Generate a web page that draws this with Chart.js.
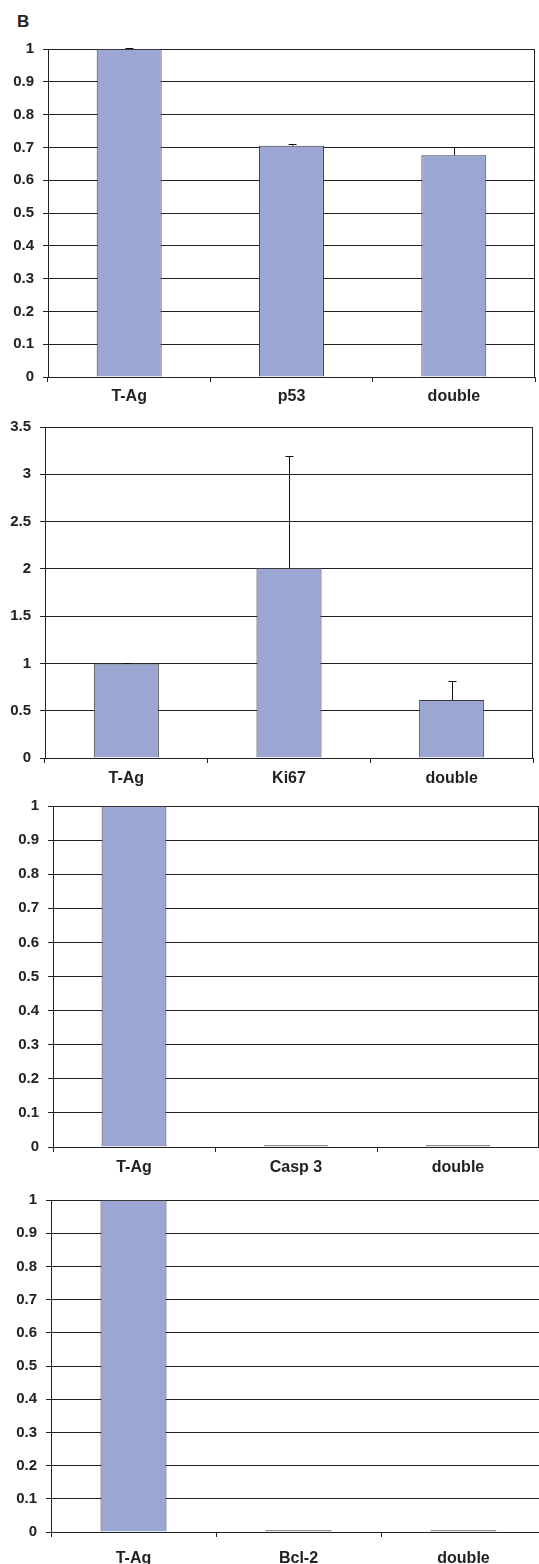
<!DOCTYPE html>
<html>
<head>
<meta charset="utf-8">
<script src="https://cdn.jsdelivr.net/npm/chart.js@4.4.1/dist/chart.umd.min.js"></script>
<style>
  html, body { margin: 0; padding: 0; background: #fff; overflow: hidden; }
  body { width: 539px; height: 1564px; position: relative; }
  canvas { position: absolute; left: 0; }
  #panelLetter {
    position: absolute; left: 17px; top: 12px;
    font: bold 17px "Liberation Sans", Arial, sans-serif; color: #222;
  }
</style>
</head>
<body>
<div id="panelLetter">B</div>
<canvas id="p53Chart"></canvas>
<canvas id="ki67Chart"></canvas>
<canvas id="caspChart"></canvas>
<canvas id="bclChart"></canvas>

<script>
// ===================== DATA =====================
const p53Labels = ["T-Ag", "p53", "double"];
const p53Values = [1, 0.705, 0.676];
const p53Errors = [0.002, 0.004, 0.026];

const ki67Labels = ["T-Ag", "Ki67", "double"];
const ki67Values = [1, 2.01, 0.613];
const ki67Errors = [0.003, 1.185, 0.197];

const caspLabels = ["T-Ag", "Casp 3", "double"];
const caspValues = [1, 0.005, 0.005];
const caspErrors = [0, 0, 0];

const bclLabels = ["T-Ag", "Bcl-2", "double"];
const bclValues = [1, 0.005, 0.005];
const bclErrors = [0, 0, 0];

const unitTicks = [0, 0.1, 0.2, 0.3, 0.4, 0.5, 0.6, 0.7, 0.8, 0.9, 1];
const unitTickLabels = ["0", "0.1", "0.2", "0.3", "0.4", "0.5", "0.6", "0.7", "0.8", "0.9", "1"];
const ki67Ticks = [0, 0.5, 1, 1.5, 2, 2.5, 3, 3.5];
const ki67TickLabels = ["0", "0.5", "1", "1.5", "2", "2.5", "3", "3.5"];

// ===================== PLUGINS =====================
// plus-only error bars, like the excel original
const errorBars = {
  id: "errorBars",
  afterDatasetsDraw(chart, args, opts) {
    const errs = opts.errors;
    if (!errs) return;
    const meta = chart.getDatasetMeta(0);
    const yScale = chart.scales.y;
    const values = chart.data.datasets[0].data;
    const ctx = chart.ctx;
    ctx.save();
    ctx.strokeStyle = "#111";
    ctx.lineWidth = 1;
    meta.data.forEach((bar, i) => {
      if (!errs[i]) return;
      const yTop = Math.round(yScale.getPixelForValue(values[i] + errs[i])) + 0.5;
      const x = Math.round(bar.x) + 0.5;
      ctx.beginPath();
      ctx.moveTo(x, bar.y);
      ctx.lineTo(x, yTop);
      ctx.moveTo(x - 4, yTop);
      ctx.lineTo(x + 4, yTop);
      ctx.stroke();
    });
    ctx.restore();
  }
};

// right hand border of the plot area
const plotFrame = {
  id: "plotFrame",
  afterDraw(chart) {
    const a = chart.chartArea;
    const ctx = chart.ctx;
    ctx.save();
    ctx.strokeStyle = "#222";
    ctx.lineWidth = 1;
    ctx.beginPath();
    const x = Math.round(a.right) - 0.5;
    ctx.moveTo(x, a.top);
    ctx.lineTo(x, a.bottom);
    ctx.stroke();
    ctx.restore();
  }
};

// ===================== CHART SETUP =====================
function makeChart(id, labels, values, errors, ticks, tickLabels, box) {
  const canvas = document.getElementById(id);
  const padTop = 15;
  const w = box.canvasWidth;
  const h = padTop + (box.bottom - box.top) + box.axisHeight;
  canvas.width = w;
  canvas.height = h;
  canvas.style.width = w + "px";
  canvas.style.height = h + "px";
  canvas.style.top = (box.top - padTop) + "px";

  return new Chart(canvas.getContext("2d"), {
    type: "bar",
    data: {
      labels: labels,
      datasets: [{
        data: values,
        backgroundColor: "#9ba6d3",
        borderColor: "#3a3a3a",
        borderWidth: 1,
        barPercentage: 0.4,
        categoryPercentage: 1
      }]
    },
    plugins: [errorBars, plotFrame],
    options: {
      responsive: false,
      animation: false,
      layout: { padding: { top: padTop, right: w - box.right, left: 0, bottom: 0 } },
      plugins: {
        legend: { display: false },
        tooltip: { enabled: false },
        errorBars: { errors: errors }
      },
      scales: {
        x: {
          grid: { drawOnChartArea: false, drawTicks: true, tickLength: 5, color: "#222", offset: true },
          border: { display: true, color: "#222", width: 1 },
          ticks: {
            color: "#222",
            padding: box.labelPad,
            font: { family: "'Liberation Sans', Arial, sans-serif", size: 16, weight: "bold" }
          },
          afterFit: (scale) => { scale.height = box.axisHeight; }
        },
        y: {
          min: 0,
          max: ticks[ticks.length - 1],
          grid: { color: "#222", lineWidth: 1, tickLength: 5 },
          border: { display: true, color: "#222", width: 1 },
          afterBuildTicks: (scale) => { scale.ticks = ticks.map(v => ({ value: v })); },
          ticks: {
            color: "#222",
            padding: 9,
            font: { family: "'Liberation Sans', Arial, sans-serif", size: 15, weight: "bold" },
            callback: (v, i) => tickLabels[i]
          },
          afterFit: (scale) => { scale.width = box.left; }
        }
      }
    }
  });
}

makeChart("p53Chart", p53Labels, p53Values, p53Errors, unitTicks, unitTickLabels,
  { left: 48, top: 46, bottom: 377, right: 535, canvasWidth: 539, axisHeight: 31, labelPad: 5 });
makeChart("ki67Chart", ki67Labels, ki67Values, ki67Errors, ki67Ticks, ki67TickLabels,
  { left: 45, top: 424, bottom: 758, right: 533, canvasWidth: 539, axisHeight: 30, labelPad: 6 });
makeChart("caspChart", caspLabels, caspValues, caspErrors, unitTicks, unitTickLabels,
  { left: 53, top: 803, bottom: 1147, right: 539, canvasWidth: 539, axisHeight: 30, labelPad: 6 });
makeChart("bclChart", bclLabels, bclValues, bclErrors, unitTicks, unitTickLabels,
  { left: 51, top: 1197, bottom: 1532, right: 546, canvasWidth: 546, axisHeight: 32, labelPad: 12 });
</script>
</body>
</html>
